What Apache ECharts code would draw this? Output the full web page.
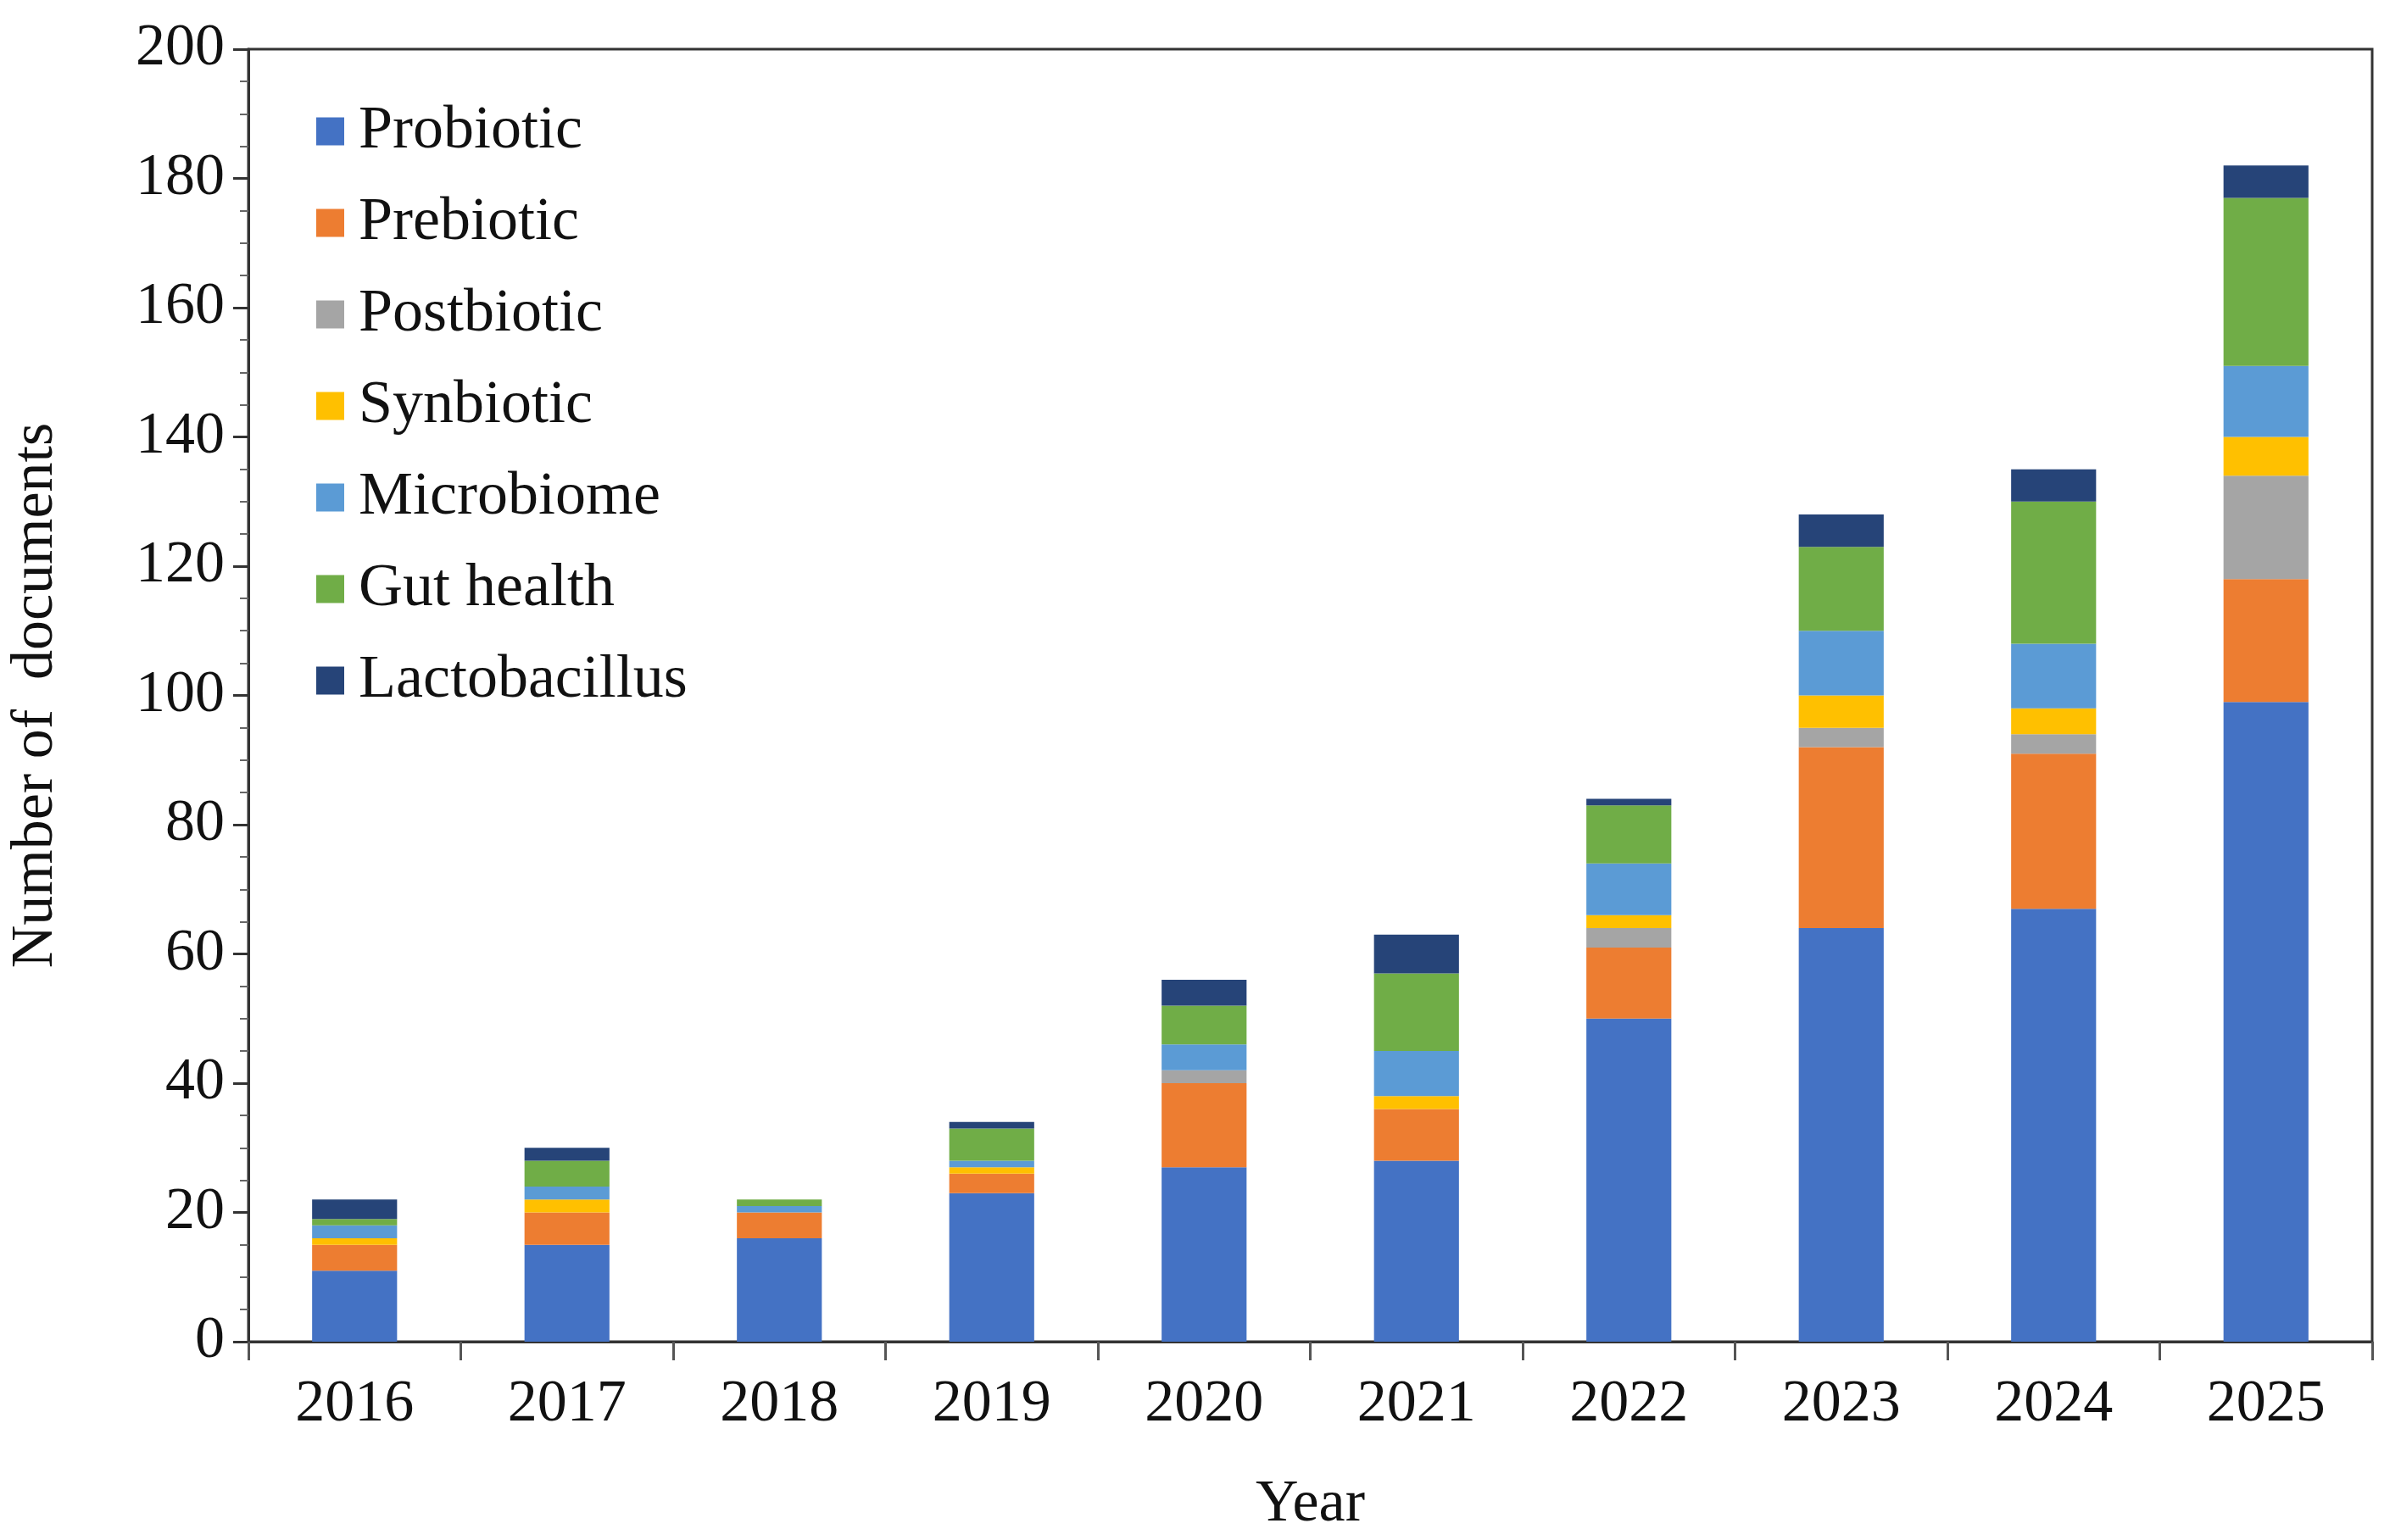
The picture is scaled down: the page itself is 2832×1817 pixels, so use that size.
<!DOCTYPE html>
<html>
<head>
<meta charset="UTF-8">
<title>Number of documents</title>
<script src="https://cdn.jsdelivr.net/npm/echarts@6/dist/echarts.min.js"></script>
<style>
html,body{margin:0;padding:0;background:#fff;}
#chart{width:2832px;height:1817px;}
</style>
</head>
<body>
<div id="chart"></div>
<script>
var years = ['2016','2017','2018','2019','2020','2021','2022','2023','2024','2025'];
var probiotic    = [11, 15, 16, 23, 27, 28, 50, 64, 67, 99];
var prebiotic    = [4, 5, 4, 3, 13, 8, 11, 28, 24, 19];
var postbiotic   = [0, 0, 0, 0, 2, 0, 3, 3, 3, 16];
var synbiotic    = [1, 2, 0, 1, 0, 2, 2, 5, 4, 6];
var microbiome   = [2, 2, 1, 1, 4, 7, 8, 10, 10, 11];
var gutHealth    = [1, 4, 1, 5, 6, 12, 9, 13, 22, 26];
var lactobacillus = [3, 2, 0, 1, 4, 6, 1, 5, 5, 5];

var names = ['Probiotic','Prebiotic','Postbiotic','Synbiotic','Microbiome','Gut health','Lactobacillus'];
var datas = [probiotic, prebiotic, postbiotic, synbiotic, microbiome, gutHealth, lactobacillus];
var colors = ['#4472c4','#ed7d31','#a5a5a5','#ffc000','#5b9bd5','#70ad47','#264478'];

var font = 'Liberation Serif, Times New Roman, serif';
var chart = echarts.init(document.getElementById('chart'));

chart.setOption({
    color: colors,
    textStyle: {fontFamily: font},
    legend: {
        orient: 'vertical',
        left: 368, top: 114,
        itemWidth: 33, itemHeight: 33, itemGap: 36,
        icon: 'rect',
        textStyle: {fontFamily: font, fontSize: 72, color: '#111', padding: [0, 0, 0, 12]},
        data: names
    },
    grid: {left: 290, right: 34, top: 58, bottom: 234, show: true, borderColor: '#333', borderWidth: 3},
    xAxis: {
        type: 'category', data: years,
        name: 'Year', nameLocation: 'middle', nameGap: 158,
        nameTextStyle: {fontSize: 70, color: '#111', fontFamily: font},
        axisLine: {lineStyle: {color: '#333', width: 3}},
        axisTick: {show: true, length: 22, lineStyle: {color: '#555', width: 3}},
        axisLabel: {fontSize: 70, color: '#111', margin: 40, fontFamily: font}
    },
    yAxis: {
        type: 'value', min: 0, max: 200, interval: 20,
        name: 'Number of  documents', nameLocation: 'middle', nameGap: 215,
        nameTextStyle: {fontSize: 70, color: '#111', fontFamily: font},
        axisLine: {show: true, lineStyle: {color: '#333', width: 3}},
        axisTick: {show: true, length: 18, lineStyle: {color: '#333', width: 3}},
        minorTick: {show: true, splitNumber: 4, length: 10, lineStyle: {color: '#666', width: 2}},
        splitLine: {show: false},
        axisLabel: {fontSize: 70, color: '#111', margin: 28, fontFamily: font}
    },
    series: names.map(function (n, i) {
        return {name: n, type: 'bar', stack: 'all', data: datas[i], barWidth: '40%'};
    })
});
</script>
</body>
</html>
